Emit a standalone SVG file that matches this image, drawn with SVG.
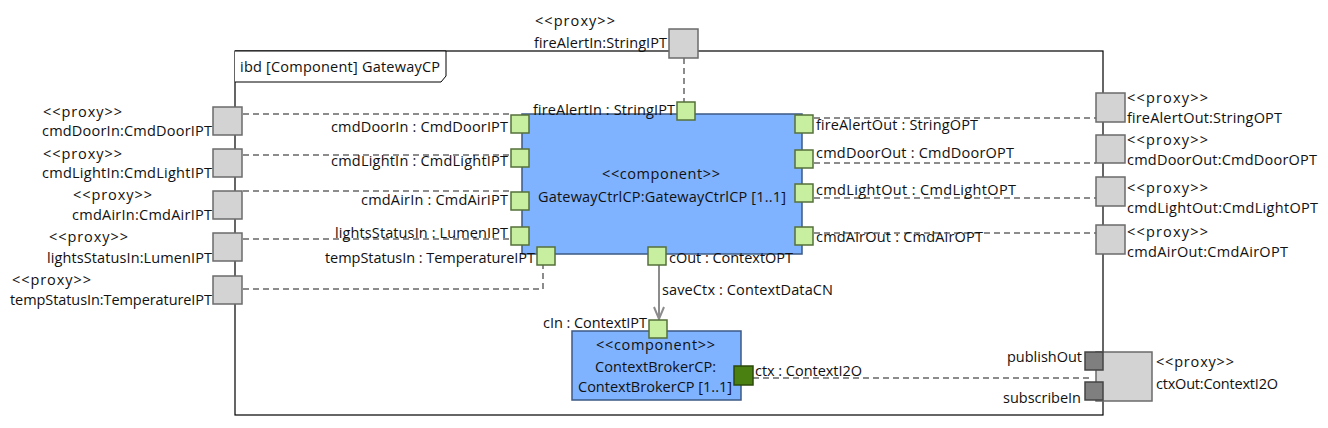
<svg xmlns="http://www.w3.org/2000/svg" width="1328" height="428" viewBox="0 0 1328 428">
<style>
text{font-family:"Open Sans","Noto Sans","DejaVu Sans",sans-serif;font-size:14.5px;fill:#111}
.e{text-anchor:end}
.m{text-anchor:middle}
.proxy{fill:#d3d3d3;stroke:#6b6b6b;stroke-width:1.5}
.port{fill:#c8eea0;stroke:#55703a;stroke-width:1.5}
.dport{fill:#4a7f12;stroke:#2c4a0a;stroke-width:1.5}
.gport{fill:#7f7f7f;stroke:#444;stroke-width:1.5}
.comp{fill:#80b3ff;stroke:#3d5a85;stroke-width:1.5}
.dash{fill:none;stroke:#8c8c8c;stroke-width:2;stroke-dasharray:6 4}
</style>
<rect width="1328" height="428" fill="#fff"/>
<g id="frame">
<rect x="235" y="51" width="868" height="364" fill="none" stroke="#000" stroke-width="1.2"/>
<path d="M235 51 H446 V76 L441 82 H235" fill="#fff" stroke="#000" stroke-width="1"/>
<text x="240" y="72" textLength="200" lengthAdjust="spacing">ibd [Component] GatewayCP</text>
</g>
<g id="connectors">
<path class="dash" d="M243 114 H511"/>
<path class="dash" d="M243 155 H511"/>
<path class="dash" d="M243 191 H511"/>
<path class="dash" d="M243 239 H511"/>
<path class="dash" d="M243 289 H543 V265"/>
<path class="dash" d="M684 58 V102"/>
<path class="dash" d="M814 118 H1096"/>
<path class="dash" d="M814 163 H1096"/>
<path class="dash" d="M814 198 H1096"/>
<path class="dash" d="M814 233 H1096"/>
<path class="dash" d="M753 378 H1090"/>
<path d="M659 265 V318" stroke="#8c8c8c" stroke-width="2" fill="none"/>
<path d="M654 307 L659 319 L664 307" stroke="#8c8c8c" stroke-width="2" fill="none"/>
<text x="662" y="295" textLength="171" lengthAdjust="spacing">saveCtx : ContextDataCN</text>
</g>
<g id="GatewayCtrlCP">
<rect class="comp" x="522" y="114" width="280" height="140"/>
<text x="602" y="179" textLength="118" lengthAdjust="spacing">&lt;&lt;component&gt;&gt;</text>
<text x="538" y="202" textLength="248" lengthAdjust="spacing">GatewayCtrlCP:GatewayCtrlCP [1..1]</text>
</g>
<g id="ContextBrokerCP">
<rect class="comp" x="572" y="331" width="169" height="69"/>
<text x="596" y="350" textLength="119" lengthAdjust="spacing">&lt;&lt;component&gt;&gt;</text>
<text x="595" y="372" textLength="121" lengthAdjust="spacing">ContextBrokerCP:</text>
<text x="578" y="392" textLength="154" lengthAdjust="spacing">ContextBrokerCP [1..1]</text>
</g>
<g id="port-cmdDoorIn-int"><rect class="port" x="511" y="115" width="18" height="18"/><text x="331" y="132" textLength="177" lengthAdjust="spacing">cmdDoorIn : CmdDoorIPT</text></g>
<g id="port-cmdLightIn-int"><rect class="port" x="511" y="149" width="18" height="18"/><text x="331" y="166" textLength="177" lengthAdjust="spacing">cmdLightIn : CmdLightIPT</text></g>
<g id="port-cmdAirIn-int"><rect class="port" x="511" y="192" width="18" height="18"/><text x="361" y="205" textLength="147" lengthAdjust="spacing">cmdAirIn : CmdAirIPT</text></g>
<g id="port-lightsStatusIn-int"><rect class="port" x="511" y="227" width="18" height="18"/><text x="335" y="238" textLength="173" lengthAdjust="spacing">lightsStatusIn : LumenIPT</text></g>
<g id="port-tempStatusIn-int"><rect class="port" x="537" y="247" width="18" height="18"/><text x="325" y="263" textLength="210" lengthAdjust="spacing">tempStatusIn : TemperatureIPT</text></g>
<g id="port-fireAlertIn-int"><rect class="port" x="677" y="102" width="18" height="18"/><text x="533" y="115" textLength="142" lengthAdjust="spacing">fireAlertIn : StringIPT</text></g>
<g id="port-cOut"><rect class="port" x="648" y="247" width="18" height="18"/><text x="669" y="263" textLength="124" lengthAdjust="spacing">cOut : ContextOPT</text></g>
<g id="port-fireAlertOut-int"><rect class="port" x="795" y="115" width="18" height="18"/><text x="816" y="130" textLength="162" lengthAdjust="spacing">fireAlertOut : StringOPT</text></g>
<g id="port-cmdDoorOut-int"><rect class="port" x="795" y="150" width="18" height="18"/><text x="816" y="158" textLength="198" lengthAdjust="spacing">cmdDoorOut : CmdDoorOPT</text></g>
<g id="port-cmdLightOut-int"><rect class="port" x="795" y="184" width="18" height="18"/><text x="816" y="195" textLength="200" lengthAdjust="spacing">cmdLightOut : CmdLightOPT</text></g>
<g id="port-cmdAirOut-int"><rect class="port" x="795" y="227" width="18" height="18"/><text x="816" y="242" textLength="167" lengthAdjust="spacing">cmdAirOut : CmdAirOPT</text></g>
<g id="port-cIn"><rect class="port" x="649" y="320" width="18" height="18"/><text x="543" y="328" textLength="104" lengthAdjust="spacing">cIn : ContextIPT</text></g>
<g id="port-ctx"><rect class="dport" x="734" y="366" width="19" height="19"/><text x="755" y="376" textLength="107" lengthAdjust="spacing">ctx : ContextI2O</text></g>
<g id="proxy-cmdDoorIn"><rect class="proxy" x="213" y="107" width="29" height="28"/><text x="43" y="117" textLength="79" lengthAdjust="spacing">&lt;&lt;proxy&gt;&gt;</text><text x="42" y="136" textLength="170" lengthAdjust="spacing">cmdDoorIn:CmdDoorIPT</text></g>
<g id="proxy-cmdLightIn"><rect class="proxy" x="213" y="149" width="29" height="28"/><text x="43" y="159" textLength="79" lengthAdjust="spacing">&lt;&lt;proxy&gt;&gt;</text><text x="42" y="178" textLength="170" lengthAdjust="spacing">cmdLightIn:CmdLightIPT</text></g>
<g id="proxy-cmdAirIn"><rect class="proxy" x="213" y="191" width="29" height="28"/><text x="73" y="200" textLength="79" lengthAdjust="spacing">&lt;&lt;proxy&gt;&gt;</text><text x="72" y="220" textLength="140" lengthAdjust="spacing">cmdAirIn:CmdAirIPT</text></g>
<g id="proxy-lightsStatusIn"><rect class="proxy" x="213" y="233" width="29" height="28"/><text x="49" y="242" textLength="79" lengthAdjust="spacing">&lt;&lt;proxy&gt;&gt;</text><text x="47" y="263" textLength="165" lengthAdjust="spacing">lightsStatusIn:LumenIPT</text></g>
<g id="proxy-tempStatusIn"><rect class="proxy" x="213" y="276" width="29" height="28"/><text x="12" y="285" textLength="79" lengthAdjust="spacing">&lt;&lt;proxy&gt;&gt;</text><text x="10" y="305" textLength="202" lengthAdjust="spacing">tempStatusIn:TemperatureIPT</text></g>
<g id="proxy-fireAlertIn"><rect class="proxy" x="669" y="29" width="29" height="29"/><text x="535" y="26" textLength="80" lengthAdjust="spacing">&lt;&lt;proxy&gt;&gt;</text><text x="534" y="48" textLength="133" lengthAdjust="spacing">fireAlertIn:StringIPT</text></g>
<g id="proxy-fireAlertOut"><rect class="proxy" x="1096" y="93" width="29" height="29"/><text x="1127" y="103" textLength="81" lengthAdjust="spacing">&lt;&lt;proxy&gt;&gt;</text><text x="1127" y="123" textLength="155" lengthAdjust="spacing">fireAlertOut:StringOPT</text></g>
<g id="proxy-cmdDoorOut"><rect class="proxy" x="1096" y="135" width="29" height="28"/><text x="1127" y="145" textLength="81" lengthAdjust="spacing">&lt;&lt;proxy&gt;&gt;</text><text x="1127" y="165" textLength="190" lengthAdjust="spacing">cmdDoorOut:CmdDoorOPT</text></g>
<g id="proxy-cmdLightOut"><rect class="proxy" x="1096" y="177" width="29" height="29"/><text x="1127" y="193" textLength="81" lengthAdjust="spacing">&lt;&lt;proxy&gt;&gt;</text><text x="1127" y="213" textLength="191" lengthAdjust="spacing">cmdLightOut:CmdLightOPT</text></g>
<g id="proxy-cmdAirOut"><rect class="proxy" x="1096" y="225" width="29" height="29"/><text x="1127" y="237" textLength="81" lengthAdjust="spacing">&lt;&lt;proxy&gt;&gt;</text><text x="1127" y="257" textLength="161" lengthAdjust="spacing">cmdAirOut:CmdAirOPT</text></g>
<g id="proxy-ctxOut">
<rect class="proxy" x="1096" y="352" width="56" height="49"/>
<rect class="gport" x="1085" y="352" width="18" height="18"/>
<rect class="gport" x="1085" y="382" width="18" height="18"/>
<text x="1007" y="362" textLength="75" lengthAdjust="spacing">publishOut</text>
<text x="1003" y="403" textLength="78" lengthAdjust="spacing">subscribeIn</text>
<text x="1156" y="367" textLength="78" lengthAdjust="spacing">&lt;&lt;proxy&gt;&gt;</text>
<text x="1156" y="389" textLength="122" lengthAdjust="spacing">ctxOut:ContextI2O</text>
</g>
</svg>
